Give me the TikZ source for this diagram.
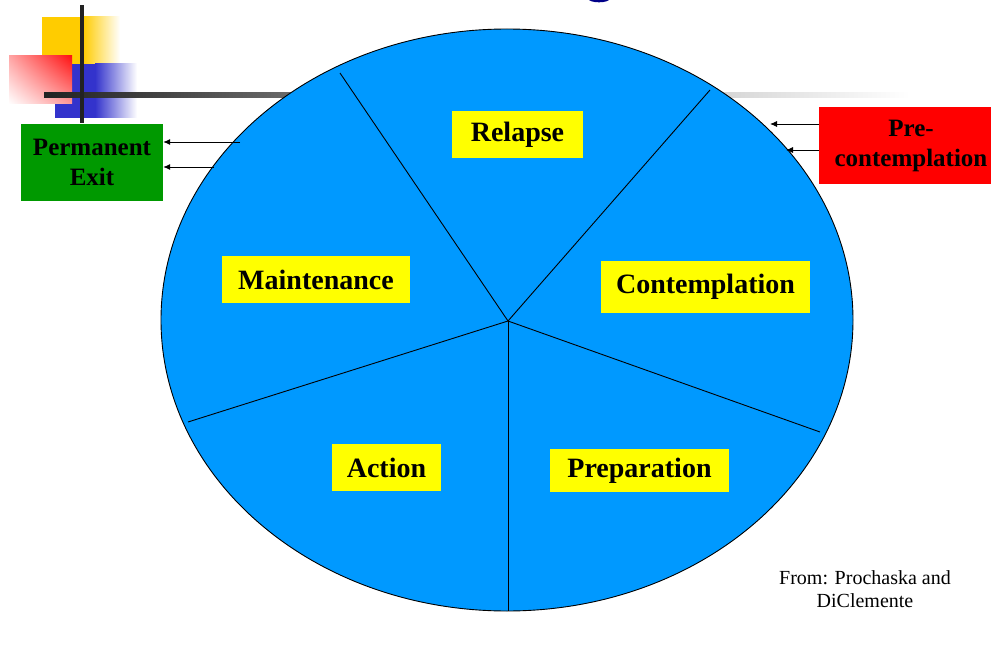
\documentclass[tikz,border=0pt]{standalone}
\usepackage{fontspec}
\setmainfont{Liberation Serif}
\usetikzlibrary{arrows.meta,shadings}
\definecolor{pieblue}{HTML}{0099FF}
\definecolor{labyellow}{HTML}{FFFF00}
\definecolor{exitgreen}{HTML}{009900}
\definecolor{prered}{HTML}{FF0000}
\definecolor{decoyellow}{HTML}{FFCC00}
\definecolor{decoblue}{HTML}{3333CC}
\definecolor{decored}{HTML}{FF1111}
\definecolor{darkbar}{HTML}{222222}
\definecolor{titleblue}{HTML}{000088}
\tikzset{
  stagebox/.style={fill=labyellow, inner sep=0pt, align=center,
    font=\fontsize{28}{30}\bfseries\selectfont},
  sidebox/.style={inner sep=0pt, align=center,
    font=\fontsize{25}{30}\bfseries\selectfont},
  spoke/.style={draw=black, line width=0.9pt},
  arr/.style={draw=black, line width=0.9pt, -{Latex[length=7pt,width=6pt]}},
  srcnote/.style={inner sep=0pt, align=center,
    font=\fontsize{20}{23}\selectfont}
}
\begin{document}
\begin{tikzpicture}[x=1pt,y=-1pt]
\useasboundingbox (0,0) rectangle (991,658);

% title fragment
\fill[titleblue] (599,-1) ellipse [x radius=10.5pt, y radius=3.3pt];

% corner decoration
\fill[decoyellow] (42,17) rectangle (83,64);
\shade[left color=decoyellow, right color=white] (83,17) rectangle (120,64);
\fill[decoblue] (55,64) rectangle (95,118);
\shade[left color=decoblue, right color=white] (95,64) rectangle (137,118);
\shade[upper right=decored, lower left=white, upper left=red!35, lower right=red!40]
  (9,56) rectangle (72,104);

% horizontal bar (behind the pie)
\shade[left color=darkbar, right color=white, middle color=gray!75] (44,93) rectangle (910,97.5);
\fill[darkbar] (80,5) rectangle (84,123);

% pie
\coordinate (c) at (508,321);
\filldraw[fill=pieblue, draw=black, line width=0.9pt] (507,320) ellipse [x radius=346pt, y radius=291pt];
\coordinate (sUL) at (340,73);
\coordinate (sUR) at (710,90);
\coordinate (sLR) at (820,432);
\coordinate (sB) at (508,611);
\coordinate (sLL) at (188,422);
\draw[spoke] (c) -- (sUL);
\draw[spoke] (c) -- (sUR);
\draw[spoke] (c) -- (sLR);
\draw[spoke] (c) -- (sB);
\draw[spoke] (c) -- (sLL);

% stage labels
\node[stagebox, minimum width=131pt, minimum height=47pt] (relapse) at (517.5,134.5) {Relapse};
\node[stagebox, minimum width=188pt, minimum height=47pt] (maint) at (316,279.5) {Maintenance};
\node[stagebox, minimum width=209pt, minimum height=52pt] (contemp) at (705.5,287) {Contemplation};
\node[stagebox, minimum width=109pt, minimum height=47pt] (action) at (386.5,467.5) {Action};
\node[stagebox, minimum width=179pt, minimum height=43pt] (prep) at (639.5,470.5) {Preparation};

% side boxes
\node[sidebox, fill=exitgreen, minimum width=142pt, minimum height=77pt] (pe) at (92,162.5) {Permanent\\Exit};
\node[sidebox, fill=prered, minimum width=184pt, minimum height=77pt] (pc) at (911,145.5) {Pre-\\contemplation};

% arrows
\coordinate (l1) at (240,142);
\coordinate (l2) at (214,167);
\draw[arr] (l1) -- (l1 -| pe.east);
\draw[arr] (l2) -- (l2 -| pe.east);
\coordinate (r1) at (770,124);
\coordinate (r2) at (786,150);
\draw[arr] (r1 -| pc.west) -- (r1);
\draw[arr] (r2 -| pc.west) -- (r2);

% source
\node[srcnote] (src) at (865,589) {From: Prochaska and\\DiClemente};
\end{tikzpicture}
\end{document}
